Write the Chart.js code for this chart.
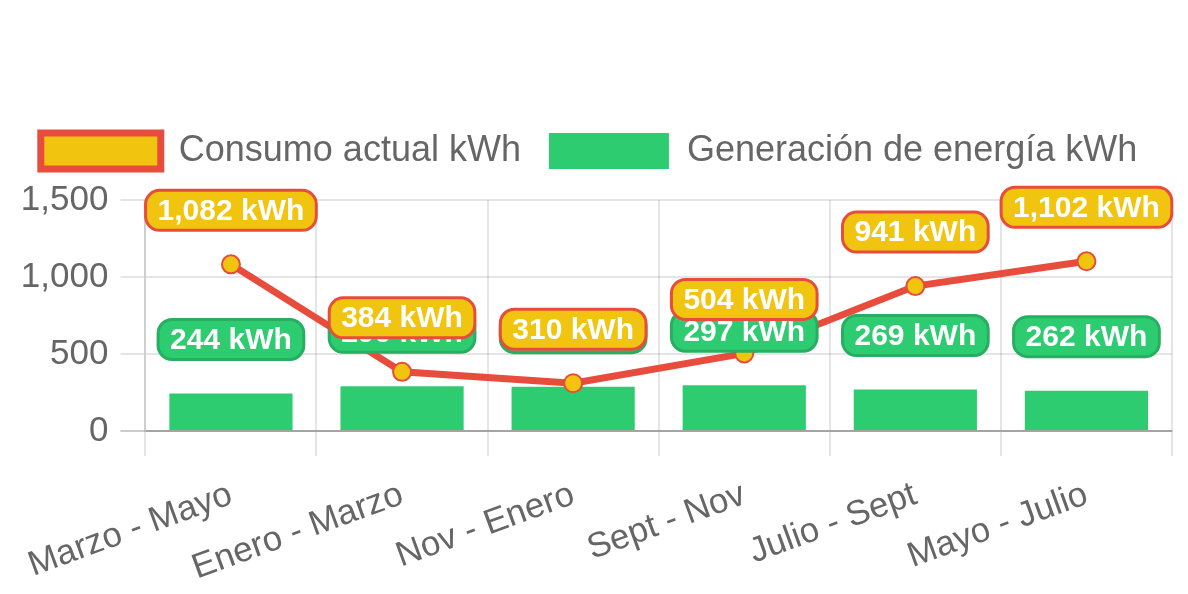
<!DOCTYPE html>
<html>
<head>
<meta charset="utf-8">
<script src="https://cdn.jsdelivr.net/npm/chart.js@4.4.0/dist/chart.umd.min.js"></script>
<style>
html,body{margin:0;padding:0;background:#fff;}
#wrap{width:1188px;height:594px;}
</style>
</head>
<body>
<div id="wrap"><canvas id="myChart" width="1188" height="594"></canvas></div>
<script>
var periodos=["Marzo - Mayo","Enero - Marzo","Nov - Enero","Sept - Nov","Julio - Sept","Mayo - Julio"];
var consumo=[1082,384,310,504,941,1102];
var generacion=[244,290,288,297,269,262];
var yticks=[0,500,1000,1500];

const ROJO="#e74c3c";
const AMARILLO="#f1c40f";
const VERDE="#2ecc71";
const VERDE_OSC="#27ae60";

Chart.defaults.font.family='"Liberation Sans", Arial, Helvetica, sans-serif';
Chart.defaults.color="#666";

// etiquetas redondeadas encima de cada punto / barra
const etiquetas={
  id:"etiquetas",
  afterInit(chart){
    // un poco mas de aire debajo de la leyenda
    const lg=chart.legend;
    if(!lg) return;
    const fit0=lg.fit.bind(lg);
    lg.fit=function(){
      fit0();
      this.height+=21;
      if(this._minSize) this._minSize.height=this.height;
    };
  },
  afterDatasetsDraw(chart){
    const ctx=chart.ctx;
    [1,0].forEach(function(di){
      const meta=chart.getDatasetMeta(di);
      const ds=chart.data.datasets[di];
      meta.data.forEach(function(el,i){
        const txt=ds.data[i].toLocaleString("en-US")+" kWh";
        ctx.save();
        ctx.font='bold 30px "Liberation Sans", Arial, sans-serif';
        const w=ctx.measureText(txt).width+24;
        const h=40;
        const x=el.x, y=el.y-54;
        ctx.beginPath();
        ctx.roundRect(x-w/2,y-h/2,w,h,14);
        ctx.fillStyle=ds.etiquetaFondo;
        ctx.fill();
        ctx.lineWidth=3;
        ctx.strokeStyle=ds.etiquetaBorde;
        ctx.stroke();
        ctx.fillStyle="#fff";
        ctx.textAlign="center";
        ctx.textBaseline="middle";
        ctx.fillText(txt,x,y+1);
        ctx.restore();
      });
    });
  }
};

const ctx=document.getElementById("myChart");
const myChart=new Chart(ctx,{
  type:"bar",
  data:{
    labels:periodos,
    datasets:[{
      type:"line",
      label:"Consumo actual kWh",
      data:consumo,
      borderColor:ROJO,
      backgroundColor:AMARILLO,
      borderWidth:7,
      tension:0,
      fill:false,
      pointRadius:9,
      pointBackgroundColor:AMARILLO,
      pointBorderColor:ROJO,
      pointBorderWidth:2,
      etiquetaFondo:AMARILLO,
      etiquetaBorde:ROJO
    },{
      label:"Generación de energía kWh",
      data:generacion,
      backgroundColor:VERDE,
      borderWidth:0,
      etiquetaFondo:VERDE,
      etiquetaBorde:VERDE_OSC
    }]
  },
  options:{
    responsive:false,
    devicePixelRatio:1,
    animation:false,
    layout:{padding:{top:105,left:6,right:16,bottom:0}},
    plugins:{
      tooltip:{enabled:false},
      legend:{
        labels:{boxWidth:120,boxHeight:36,padding:28,font:{size:36},color:"#666"}
      }
    },
    scales:{
      x:{
        grid:{color:"rgba(0,0,0,0.1)",lineWidth:2,tickLength:25,offset:true},
        border:{color:"rgba(0,0,0,0.2)",width:2},
        ticks:{font:{size:35},color:"#666",minRotation:20,maxRotation:20,padding:18},
        afterFit:function(s){ s.height=163; }
      },
      y:{
        min:0,max:1500,
        afterBuildTicks:function(s){ s.ticks=yticks.map(function(v){return {value:v};}); },
        grid:{
          color:function(c){ return c.tick && c.tick.value===0 ? "rgba(0,0,0,0.2)" : "rgba(0,0,0,0.1)"; },
          lineWidth:2,tickLength:25
        },
        border:{color:"rgba(0,0,0,0.1)",width:2},
        ticks:{font:{size:35},color:"#666",padding:12},
        afterFit:function(s){ s.width=137; }
      }
    }
  },
  plugins:[etiquetas]
});
</script>
</body>
</html>
